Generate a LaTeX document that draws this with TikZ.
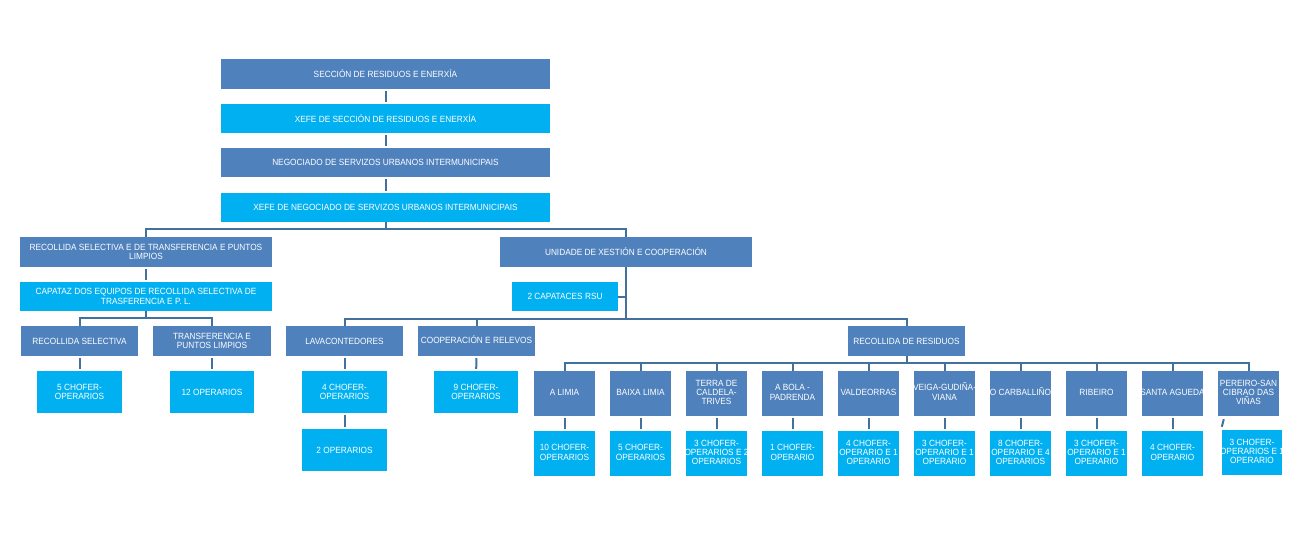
\documentclass[tikz,border=0pt]{standalone}
\usepackage{fontspec}
\setmainfont{Liberation Sans}[FakeStretch=0.92]
\definecolor{dk}{HTML}{4F81BD}
\definecolor{lt}{HTML}{00B0F0}
\definecolor{ln}{HTML}{41719C}
\newcommand{\mlines}[1]{\makebox[0pt]{\begin{tabular}{@{}c@{}}#1\end{tabular}}}
\begin{document}
\begin{tikzpicture}[x=1pt,y=-1pt,
  base/.style={inner sep=0pt, text=white, align=center, font=\fontsize{9}{9.3}\selectfont},
  dkb/.style={base, fill=dk},
  ltb/.style={base, fill=lt},
  sz/.style 2 args={minimum width=#1pt, minimum height=#2pt},
  conn/.style={draw=ln, line width=2pt},
  gap/.style={conn, shorten <=2pt, shorten >=2pt}]
\fill[white] (0,0) rectangle (1303,540);
\useasboundingbox (0,0) rectangle (1303,540);

% top chain
\node[dkb, sz={329}{30}] (sec)  at (385.5,74)   {SECCIÓN DE RESIDUOS E ENERXÍA};
\node[ltb, sz={329}{29}] (xsec) at (385.5,118.5) {XEFE DE SECCIÓN DE RESIDUOS E ENERXÍA};
\node[dkb, sz={329}{29}] (neg)  at (385.5,162.5) {NEGOCIADO DE SERVIZOS URBANOS INTERMUNICIPAIS};
\node[ltb, sz={329}{29}] (xneg) at (385.5,207.5) {XEFE DE NEGOCIADO DE SERVIZOS URBANOS INTERMUNICIPAIS};

% left branch
\node[dkb, sz={252}{30}] (rst) at (146,252)   {RECOLLIDA SELECTIVA E DE TRANSFERENCIA E PUNTOS\\LIMPIOS};
\node[ltb, sz={252}{29}] (cap) at (146,296.5) {CAPATAZ DOS EQUIPOS DE RECOLLIDA SELECTIVA DE\\TRASFERENCIA E P. L.};
\node[dkb, sz={117}{30}] (rs)  at (79.5,341)  {RECOLLIDA SELECTIVA};
\node[dkb, sz={118}{30}] (tpl) at (212,341)   {TRANSFERENCIA E\\PUNTOS LIMPIOS};
\node[ltb, sz={85}{42}]  (c5)  at (79.5,392)  {5 CHOFER-\\OPERARIOS};
\node[ltb, sz={84}{42}]  (o12) at (212,392)   {12 OPERARIOS};

% right branch
\node[dkb, sz={252}{30}] (uni) at (626,252)   {UNIDADE DE XESTIÓN E COOPERACIÓN};
\node[ltb, sz={106}{29}] (c2)  at (565,296.5) {2 CAPATACES RSU};
\node[dkb, sz={117}{30}] (lav) at (344.5,341) {LAVACONTEDORES};
\node[dkb, sz={117}{30}] (coo) at (476.5,341) {\mlines{COOPERACIÓN E RELEVOS}};
\node[dkb, sz={117}{30}] (rr)  at (906.5,341) {RECOLLIDA DE RESIDUOS};
\node[ltb, sz={85}{42}]  (c4)  at (344.5,392) {4 CHOFER-\\OPERARIOS};
\node[ltb, sz={85}{42}]  (o2)  at (344.5,450) {2 OPERARIOS};
\node[ltb, sz={84}{42}]  (c9)  at (476,392)   {9 CHOFER-\\OPERARIOS};

% districts
\foreach \i/\t/\b in {
  1/{A LIMIA}/{10 CHOFER-\\OPERARIOS},
  2/{BAIXA LIMIA}/{5 CHOFER-\\OPERARIOS},
  3/{TERRA DE\\CALDELA-\\TRIVES}/{3 CHOFER-\\OPERARIOS E 2\\OPERARIOS},
  4/{A BOLA -\\PADRENDA}/{1 CHOFER-\\OPERARIO},
  5/{VALDEORRAS}/{4 CHOFER-\\OPERARIO E 1\\OPERARIO},
  6/{\smash{VEIGA-GUDIÑA-}\\VIANA}/{3 CHOFER-\\OPERARIO E 1\\OPERARIO},
  7/{\smash{O CARBALLIÑO}}/{8 CHOFER-\\OPERARIO E 4\\OPERARIOS},
  8/{RIBEIRO}/{3 CHOFER-\\OPERARIO E 1\\OPERARIO},
  9/{SANTA AGUEDA}/{4 CHOFER-\\OPERARIO}} {
  \node[dkb, sz={61}{45}] (d\i) at ({564.5+76*(\i-1)},393.5) {\mlines{\t}};
  \node[ltb, sz={61}{45}] (e\i) at ({564.5+76*(\i-1)},453.5) {\mlines{\b}};
  \draw[gap] (d\i) -- (e\i);
}
\node[dkb, sz={61}{45}] (d10) at (1248.5,393.5) {\mlines{PEREIRO-SAN\\CIBRAO DAS\\\smash{VIÑAS}}};
\node[ltb, sz={60}{45}] (e10) at (1252,452.5)   {\mlines{3 CHOFER-\\OPERARIOS E 1\\OPERARIO}};
\draw[conn] ([xshift=6pt,yshift=-3pt]d10.south west) -- ([xshift=0pt,yshift=3pt]e10.north west);

% connectors
\draw[gap] (sec) -- (xsec);
\draw[gap] (xsec) -- (neg);
\draw[gap] (neg) -- (xneg);
\draw[conn] (xneg.south) -- (xneg.south |- 0,229) -| (rst.north);
\draw[conn] (xneg.south) -- (xneg.south |- 0,229) -| (uni.north);
\draw[gap] (rst) -- (cap);
\draw[conn] (cap.south) -- (cap.south |- 0,318) -| (rs.north);
\draw[conn] (cap.south) -- (cap.south |- 0,318) -| (tpl.north);
\draw[gap] (rs) -- (c5);
\draw[gap] (tpl) -- (o12);
\draw[conn] (uni.south) -- (uni.south |- 0,319) -| (lav.north);
\draw[conn] (uni.south) -- (uni.south |- 0,319) -| (coo.north);
\draw[conn] (uni.south) -- (uni.south |- 0,319) -| (rr.north);
\draw[conn] (c2.east) -- (c2.east -| uni.south);
\draw[gap] (lav) -- (c4);
\draw[gap] (c4) -- (o2);
\draw[gap] (coo) -- (c9);
\foreach \i in {1,...,10} {
  \draw[conn] (rr.south) -- (rr.south |- 0,363) -| (d\i.north);
}
\end{tikzpicture}
\end{document}
